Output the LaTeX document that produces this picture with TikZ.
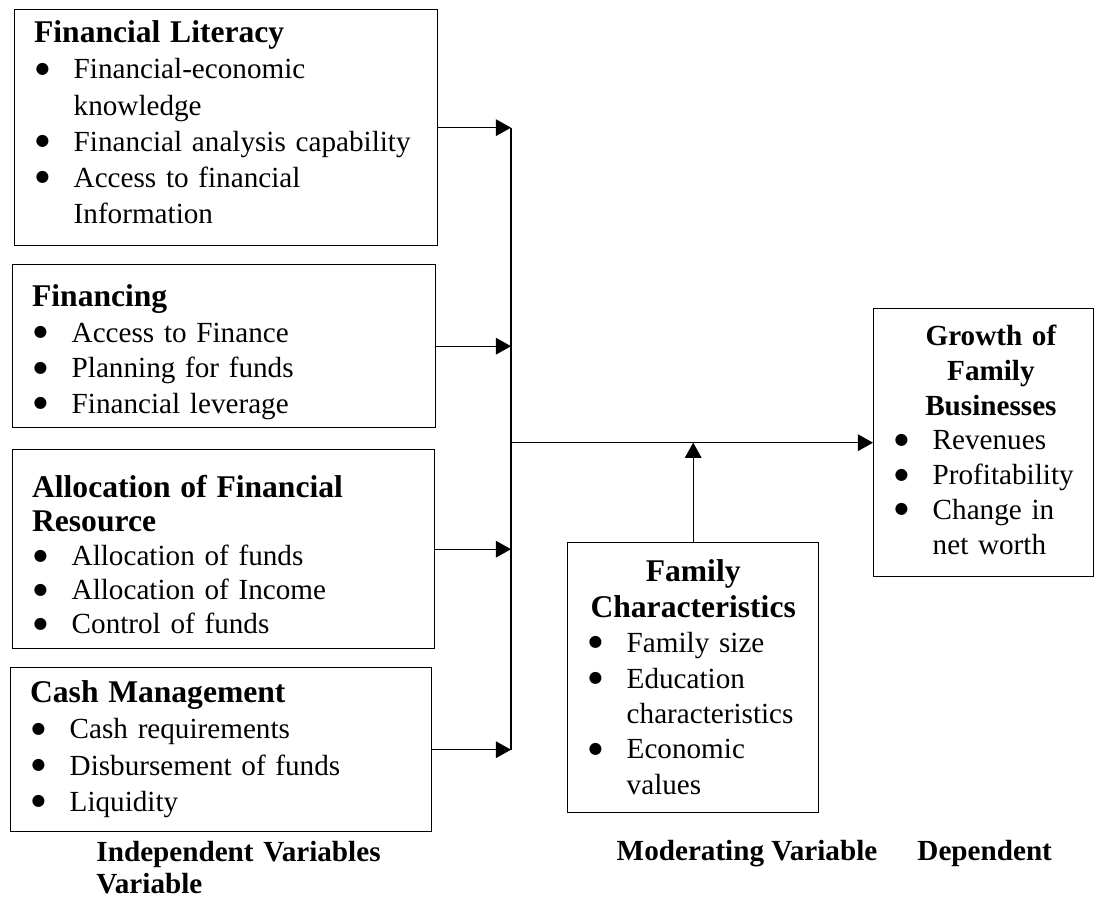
\documentclass[tikz,border=0pt]{standalone}
\usepackage{fontspec}
\setmainfont{Liberation Serif}
\newfontfamily\dotfont{DejaVu Sans}
\usetikzlibrary{arrows.meta}

\newcommand{\itembul}{\makebox[16.3pt][l]{\hspace{0.6pt}\raisebox{2.3pt}{\dotfont\fontsize{6.5}{6.5}\selectfont ●}}}
\newcommand{\contind}{\hspace*{16.3pt}}
\newcommand{\boxtitle}{\fontsize{13}{14.6}\selectfont\bfseries}

\begin{document}
\begin{tikzpicture}[x=0.4115pt,y=-0.4115pt,
   varbox/.style={draw,line width=0.55pt,anchor=north west,inner xsep=8pt,inner ysep=0pt,
      font=\fontsize{12}{14.6}\selectfont,execute at begin node=\raggedright},
   conn/.style={line width=0.55pt,-{Triangle[length=6.2pt,width=6.8pt]}},
   caption/.style={font=\fontsize{12}{13.2}\selectfont\bfseries,inner sep=0pt}]

 \useasboundingbox (0,0) rectangle (1096,896);

 % independent variables
 \node[varbox,font=\fontsize{12}{14.9}\selectfont,text width=158.1pt,text height=13.6pt,text depth=83.5pt] (literacy) at (14,9)
   {{\boxtitle Financial Literacy}\\
    \itembul Financial-economic\\
    \contind knowledge\\
    \itembul Financial analysis capability\\
    \itembul Access to financial\\
    \contind Information};

 \node[varbox,text width=158.1pt,text height=17.3pt,text depth=49.8pt] (financing) at (12,264)
   {{\boxtitle Financing}\\
    \itembul Access to Finance\\
    \itembul Planning for funds\\
    \itembul Financial leverage};

 \node[varbox,font=\fontsize{12}{14}\selectfont,text width=157.7pt,text height=19.8pt,text depth=62.1pt] (allocation) at (12,449)
   {{\boxtitle Allocation of Financial\\Resource}\\
    \itembul Allocation of funds\\
    \itembul Allocation of Income\\
    \itembul Control of funds};

 \node[varbox,font=\fontsize{12}{14.9}\selectfont,text width=157.2pt,text height=14.4pt,text depth=53.1pt] (cash) at (10,667)
   {{\boxtitle Cash Management}\\
    \itembul Cash requirements\\
    \itembul Disbursement of funds\\
    \itembul Liquidity};

 % moderating and dependent variables
 \node[varbox,text width=87.3pt,text height=16pt,text depth=95.1pt] (family) at (567,542)
   {{\centering\boxtitle Family\\Characteristics\par}
    \itembul Family size\\
    \itembul Education\\
    \contind characteristics\\
    \itembul Economic\\
    \contind values};

 \node[varbox,font=\fontsize{12}{14.3}\selectfont,text width=74.5pt,text height=15.2pt,text depth=95.1pt] (growth) at (873,308)
   {{\centering\bfseries\hspace*{6pt}Growth of\\\hspace*{6pt}Family\\\hspace*{6pt}Businesses\par}
    \itembul Revenues\\
    \itembul Profitability\\
    \itembul Change in\\
    \contind net worth};

 % arrows
 \coordinate (spine) at (511,0);
 \foreach \v in {literacy,financing,allocation,cash}
   \draw[conn] (\v.east) -- (\v.east -| spine);
 \draw[line width=0.55pt] (literacy.east -| spine) -- (cash.east -| spine);
 \draw[conn] (growth.west -| spine) -- (growth.west);
 \draw[conn] (family.north) -- (family.north |- growth.west);

 % captions
 \node[caption,anchor=base west,text width=130pt] (indep) at (96,861) {Independent Variables\\Variable};
 \node[caption,anchor=base] (moder) at (747,860) {Moderating Variable};
 \node[caption,anchor=base west] (dep) at (917,860) {Dependent};

\end{tikzpicture}
\end{document}
